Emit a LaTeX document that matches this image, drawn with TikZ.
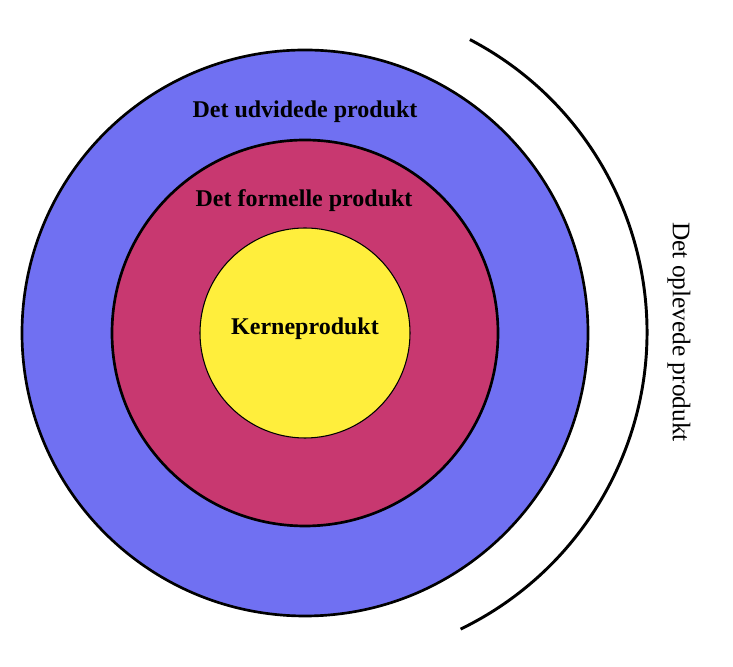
\documentclass[tikz,border=0pt]{standalone}
\usepackage{fontspec}
\setmainfont{Liberation Serif}
\definecolor{udvidet}{RGB}{112,112,242}
\definecolor{formel}{RGB}{200,56,112}
\definecolor{kerne}{RGB}{255,238,60}
\begin{document}
\begin{tikzpicture}[x=0.75pt, y=0.75pt, every node/.style={align=center, font=\bfseries\fontsize{18}{20}\selectfont},
  ring/.style={draw=black, line width=2pt}]
  \useasboundingbox (0,0) rectangle (733,667);
  \coordinate (c) at (305,334);
  \coordinate (arcmid) at (317,335);

  \filldraw [ring, fill=udvidet] (c) circle (283);
  \filldraw [ring, fill=formel] (c) circle (193);
  \filldraw [draw=black, line width=0.8pt, fill=kerne] (c) circle (105);

  \node (udvidet) at (305,555) {Det udvidede produkt};
  \node (formel) at (304,466) {Det formelle produkt};
  \node (kerne) at (305,338) {Kerneprodukt};

  \draw [line width=2.2pt] (arcmid) ++(62.4:330) arc (62.4:-64.2:330);
  \node [rotate=-90, font=\fontsize{19}{21}\selectfont] (oplevet) at (679,335) {Det oplevede produkt};
\end{tikzpicture}
\end{document}
